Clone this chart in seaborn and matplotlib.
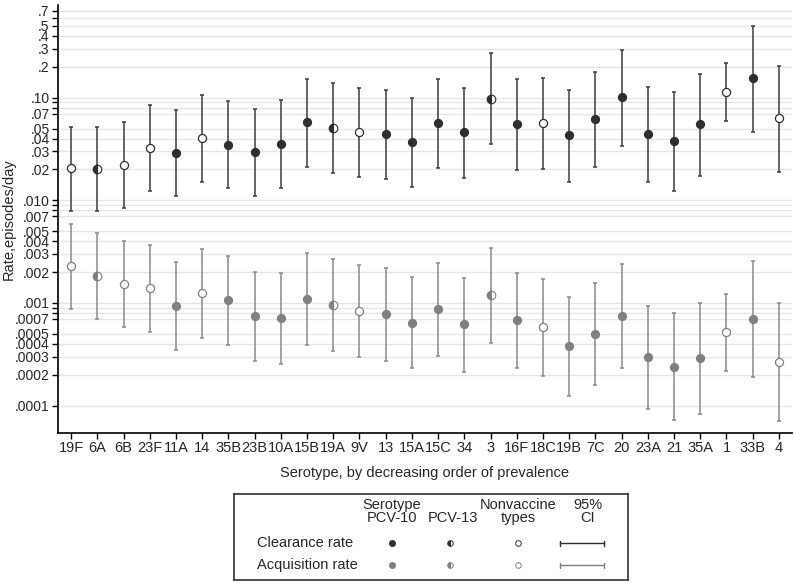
import numpy as np
import pandas as pd
import matplotlib
matplotlib.use('Agg')
import matplotlib.pyplot as plt
import seaborn as sns

serotypes = ['19F', '6A', '6B', '23F', '11A', '14', '35B', '23B', '10A', '15B', '19A', '9V', '13', '15A',
             '15C', '34', '3', '16F', '18C', '19B', '7C', '20', '23A', '21', '35A', '1', '33B', '4']
# marker style as drawn: open / half / filled
vgroup = ['open', 'half', 'open', 'open', 'filled', 'open', 'filled', 'filled', 'filled', 'filled', 'half', 'open',
          'filled', 'filled', 'filled', 'filled', 'half', 'filled', 'open', 'filled', 'filled', 'filled', 'filled',
          'filled', 'filled', 'open', 'filled', 'open']

clear_rate = [0.0205, 0.0202, 0.0223, 0.0324, 0.0286, 0.0405, 0.0349, 0.0296, 0.0354, 0.0573, 0.0507, 0.0458,
              0.0443, 0.0366, 0.0568, 0.0458, 0.098, 0.0555, 0.0568, 0.043, 0.0621, 0.1005, 0.0443, 0.0379,
              0.0551, 0.114, 0.154, 0.0635]
clear_lo = [0.0079, 0.0078, 0.0085, 0.0122, 0.0109, 0.0152, 0.0132, 0.0111, 0.0132, 0.0213, 0.0186, 0.0169,
            0.0163, 0.0135, 0.0207, 0.0166, 0.0352, 0.0199, 0.0202, 0.015, 0.0213, 0.0339, 0.0151, 0.0124,
            0.0174, 0.0586, 0.0468, 0.019]
clear_hi = [0.052, 0.052, 0.0577, 0.0839, 0.075, 0.106, 0.0918, 0.0778, 0.0952, 0.152, 0.138, 0.123,
            0.120, 0.099, 0.152, 0.125, 0.27, 0.152, 0.155, 0.120, 0.179, 0.293, 0.127, 0.114,
            0.171, 0.217, 0.50, 0.204]

acq_rate = [0.00227, 0.00184, 0.00154, 0.0014, 0.00094, 0.00125, 0.00106, 0.00074, 0.00071, 0.0011, 0.00096,
            0.00083, 0.00078, 0.00064, 0.00088, 0.00062, 0.00119, 0.000675, 0.00058, 0.00038, 0.0005, 0.00074,
            0.000296, 0.00024, 0.000289, 0.00052, 0.0007, 0.000264]
acq_lo = [0.000865, 0.000701, 0.000581, 0.00052, 0.00035, 0.000457, 0.00039, 0.00027, 0.000255, 0.00039,
          0.000342, 0.000296, 0.000273, 0.00023, 0.000303, 0.000213, 0.000403, 0.00023, 0.000195, 0.000124,
          0.000159, 0.000233, 0.0000929, 0.0000719, 0.0000822, 0.000218, 0.00019, 0.000071]
acq_hi = [0.00583, 0.0048, 0.00404, 0.0037, 0.0025, 0.00335, 0.00289, 0.002, 0.00197, 0.00309, 0.0027,
          0.00232, 0.00219, 0.0018, 0.00245, 0.00176, 0.00346, 0.00197, 0.0017, 0.00114, 0.00157, 0.00238,
          0.00094, 0.0008, 0.001, 0.00121, 0.00258, 0.001]

ytick_vals = [.7, .5, .4, .3, .2, .1, .07, .05, .04, .03, .02, .01, .007, .005, .004, .003, .002, .001,
              .0007, .0005, .0004, .0003, .0002, .0001]
ytick_labels = ['.7', '.5', '.4', '.3', '.2', '.10', '.07', '.05', '.04', '.03', '.02', '.010', '.007', '.005',
                '.004', '.003', '.002', '.001', '.0007', '.0005', '.0004', '.0003', '.0002', '.0001']
ygrid_extra = [.6, .09, .08, .009, .008, .0009, .0008]

n = len(serotypes)
df = pd.concat([
    pd.DataFrame({'serotype': serotypes, 'pos': np.arange(n), 'group': vgroup, 'rate': 'Clearance rate',
                  'value': clear_rate, 'lo': clear_lo, 'hi': clear_hi}),
    pd.DataFrame({'serotype': serotypes, 'pos': np.arange(n), 'group': vgroup, 'rate': 'Acquisition rate',
                  'value': acq_rate, 'lo': acq_lo, 'hi': acq_hi}),
])

sns.set_style('white')
plt.rcParams['font.family'] = ['Liberation Sans', 'DejaVu Sans']

dark = '#2e2e2e'
grey = '#808080'
styles = {'Clearance rate': (dark, '#3c3c3c'), 'Acquisition rate': (grey, '#8a8a8a')}

fig = plt.figure(figsize=(7.94, 5.84), dpi=100)
ax = fig.add_axes([58 / 794, 1 - 433 / 584, (792 - 58) / 794, (433 - 5) / 584])
ax.set_yscale('log')

for rate, (mcol, ecol) in styles.items():
    sub = df[df.rate == rate]
    ax.errorbar(sub.pos, sub.value, yerr=[sub.value - sub.lo, sub.hi - sub.value], fmt='none',
                ecolor=ecol, elinewidth=1.1, capsize=1.6, capthick=1.1, zorder=2)
    f = sub[sub.group == 'filled']
    sns.scatterplot(data=f, x='pos', y='value', color=mcol, edgecolor=mcol, s=34, linewidth=0.8,
                    ax=ax, zorder=3, legend=False)
    o = sub[sub.group == 'open']
    sns.scatterplot(data=o, x='pos', y='value', color='white', edgecolor=mcol, s=34, linewidth=0.9,
                    ax=ax, zorder=3, legend=False)
    h = sub[sub.group == 'half']
    ax.plot(h.pos, h.value, 'o', fillstyle='left', markerfacecolor=mcol, markerfacecoloralt='white',
            markeredgecolor=mcol, markersize=6.2, markeredgewidth=0.8, zorder=3)

fs = 10
ax.set_xlim(-0.5, n - 0.5)
ax.set_ylim(5.4e-5, 0.8)
ax.set_xticks(np.arange(n))
ax.set_xticklabels(serotypes, fontsize=fs + 0.5)
ax.set_yticks(ytick_vals)
ax.set_yticklabels(ytick_labels, fontsize=fs)
ax.set_yticks(ygrid_extra, minor=True)
ax.yaxis.set_minor_formatter(matplotlib.ticker.NullFormatter())
ax.tick_params(axis='both', which='both', direction='out', length=4, width=1, color='black', pad=2,
               left=True, bottom=True)
ax.tick_params(axis='y', which='minor', length=4)
ax.grid(axis='y', which='both', color='#e6e6e6', linewidth=1)
ax.set_axisbelow(True)
for s in ['top', 'right']:
    ax.spines[s].set_visible(False)
for s in ['left', 'bottom']:
    ax.spines[s].set_color('black')
    ax.spines[s].set_linewidth(1.2)
ax.set_xlabel('Serotype, by decreasing order of prevalence', fontsize=fs + 0.5, labelpad=8)
ax.set_ylabel('Rate,episodes/day', fontsize=fs + 0.5)
ax.yaxis.set_label_coords((16 - 58) / 734, 0.5)

# legend box
lg = fig.add_axes([234 / 794, 1 - 580 / 584, (628 - 234) / 794, (580 - 494) / 584])
lg.set_xlim(234, 628)
lg.set_ylim(580, 494)
lg.set_xticks([])
lg.set_yticks([])
for s in lg.spines.values():
    s.set_color('#333333')
    s.set_linewidth(1.2)
lfs = 10.5
lg.text(392, 505, 'Serotype', ha='center', va='center', fontsize=lfs)
lg.text(392, 518, 'PCV-10', ha='center', va='center', fontsize=lfs)
lg.text(453, 518, 'PCV-13', ha='center', va='center', fontsize=lfs)
lg.text(518, 505, 'Nonvaccine', ha='center', va='center', fontsize=lfs)
lg.text(518, 518, 'types', ha='center', va='center', fontsize=lfs)
lg.text(588, 505, '95%', ha='center', va='center', fontsize=lfs)
lg.text(588, 518, 'CI', ha='center', va='center', fontsize=lfs)
rows = [('Clearance rate', 543, dark), ('Acquisition rate', 565, grey)]
for label, yy, c in rows:
    lg.text(257, yy, label, ha='left', va='center', fontsize=lfs)
    lg.plot([392], [yy], 'o', color=c, markersize=4)
    lg.plot([450], [yy], 'o', fillstyle='left', markerfacecolor=c, markerfacecoloralt='white',
            markeredgecolor=c, markersize=4, markeredgewidth=0.7)
    lg.plot([518], [yy], 'o', markerfacecolor='white', markeredgecolor=c, markersize=4, markeredgewidth=0.7)
    lg.plot([560, 604], [yy, yy], color=c, linewidth=1)
    lg.plot([560, 560], [yy - 2.5, yy + 2.5], color=c, linewidth=1)
    lg.plot([604, 604], [yy - 2.5, yy + 2.5], color=c, linewidth=1)

fig.savefig('out.png', dpi=100)
